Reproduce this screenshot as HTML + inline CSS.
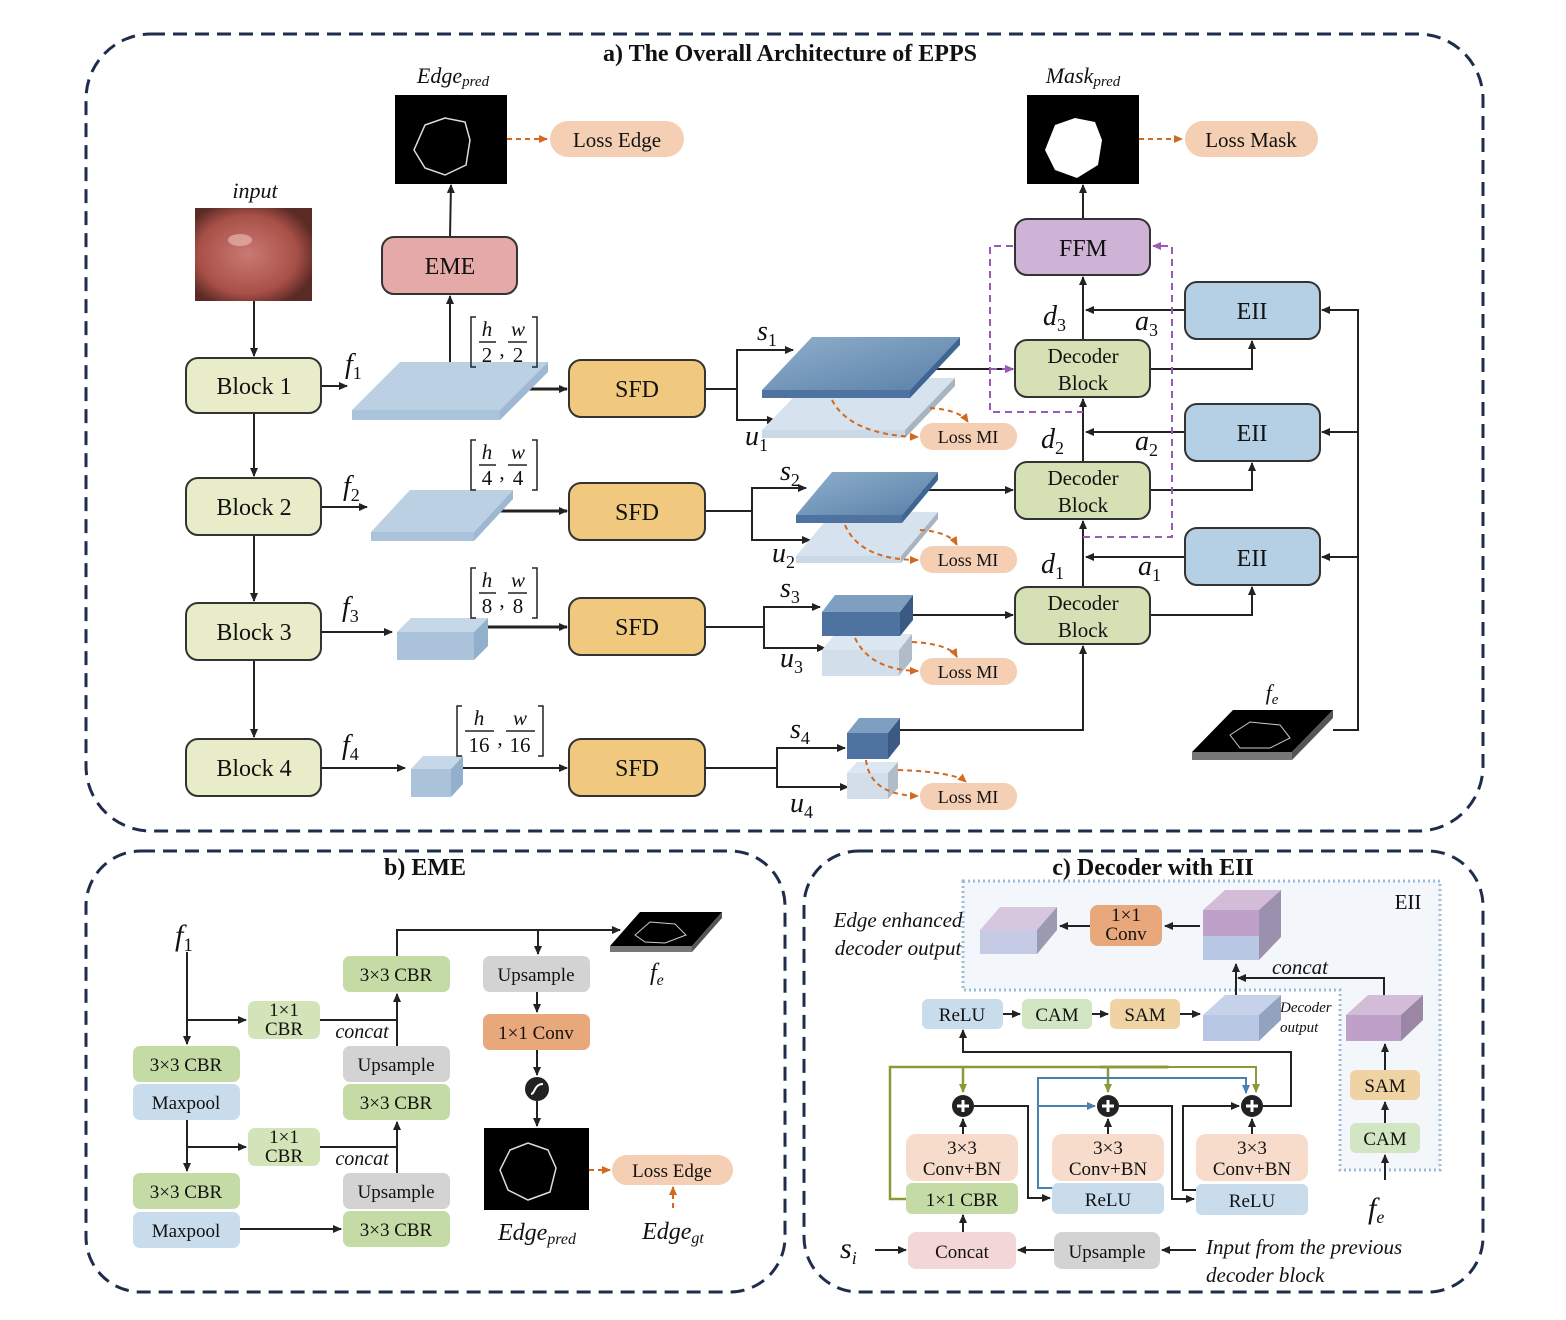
<!DOCTYPE html>
<html><head><meta charset="utf-8"><style>
body{margin:0;background:#fff}
svg{display:block}
text{font-family:"Liberation Serif",serif;fill:#111}
.it{font-style:italic}
.b{font-weight:bold}
</style></head><body>
<svg width="1566" height="1320" viewBox="0 0 1566 1320" xmlns="http://www.w3.org/2000/svg">
<defs>
<marker id="a" markerWidth="10" markerHeight="10" refX="8" refY="5" orient="auto" markerUnits="userSpaceOnUse"><path d="M0,1 L9,5 L0,9 z" fill="#222"/></marker>
<marker id="o" markerWidth="10" markerHeight="10" refX="8" refY="5" orient="auto" markerUnits="userSpaceOnUse"><path d="M0,1 L9,5 L0,9 z" fill="#d2691e"/></marker>
<marker id="p" markerWidth="10" markerHeight="10" refX="8" refY="5" orient="auto" markerUnits="userSpaceOnUse"><path d="M0,1 L9,5 L0,9 z" fill="#9b59b6"/></marker>
<marker id="g" markerWidth="10" markerHeight="10" refX="8" refY="5" orient="auto" markerUnits="userSpaceOnUse"><path d="M0,1 L9,5 L0,9 z" fill="#8a9a3a"/></marker>
<marker id="bl" markerWidth="10" markerHeight="10" refX="8" refY="5" orient="auto" markerUnits="userSpaceOnUse"><path d="M0,1 L9,5 L0,9 z" fill="#4a7fb0"/></marker>
<linearGradient id="dk" x1="0" y1="0" x2="1" y2="1"><stop offset="0" stop-color="#8fb0cc"/><stop offset="1" stop-color="#5a80a8"/></linearGradient>
<radialGradient id="tis" cx="0.45" cy="0.5" r="0.6"><stop offset="0" stop-color="#c97a72"/><stop offset="0.7" stop-color="#a85048"/><stop offset="1" stop-color="#5a2a24"/></radialGradient>
</defs>

<!-- panels -->
<rect x="86" y="34" width="1397" height="797" rx="65" fill="none" stroke="#1f2d4d" stroke-width="3" stroke-dasharray="14,8"/>
<rect x="86" y="851" width="699" height="441" rx="55" fill="none" stroke="#1f2d4d" stroke-width="3" stroke-dasharray="14,8"/>
<rect x="804" y="851" width="679" height="441" rx="55" fill="none" stroke="#1f2d4d" stroke-width="3" stroke-dasharray="14,8"/>
<text x="790" y="61" font-size="24" class="b" text-anchor="middle">a)  The Overall Architecture of EPPS</text>
<text x="425" y="875" font-size="24" class="b" text-anchor="middle">b)  EME</text>
<text x="1153" y="875" font-size="24" class="b" text-anchor="middle">c)  Decoder with EII</text>

<g stroke="#222" stroke-width="2" fill="none">
<!-- ===== Panel A ===== -->
<line x1="254" y1="300" x2="254" y2="356" marker-end="url(#a)"/>
<line x1="254" y1="413" x2="254" y2="476" marker-end="url(#a)"/>
<line x1="254" y1="535" x2="254" y2="601" marker-end="url(#a)"/>
<line x1="254" y1="660" x2="254" y2="737" marker-end="url(#a)"/>
<line x1="321" y1="386" x2="347" y2="386" marker-end="url(#a)"/>
<line x1="321" y1="507" x2="367" y2="507" marker-end="url(#a)"/>
<line x1="321" y1="632" x2="392" y2="632" marker-end="url(#a)"/>
<line x1="321" y1="768" x2="405" y2="768" marker-end="url(#a)"/>
<line x1="528" y1="389" x2="567" y2="389" stroke-width="3" marker-end="url(#a)"/>
<line x1="500" y1="511" x2="567" y2="511" stroke-width="3" marker-end="url(#a)"/>
<line x1="488" y1="627" x2="567" y2="627" stroke-width="3" marker-end="url(#a)"/>
<line x1="463" y1="768" x2="567" y2="768" stroke-width="2" marker-end="url(#a)"/>
<line x1="450" y1="380" x2="450" y2="296" marker-end="url(#a)"/>
<line x1="450" y1="237" x2="451" y2="185" marker-end="url(#a)"/>
<line x1="1083" y1="219" x2="1083" y2="185" marker-end="url(#a)"/>
<!-- SFD outputs -->
<polyline points="705,389 737,389 737,350 793,350" marker-end="url(#a)"/>
<polyline points="737,389 737,420 775,420" marker-end="url(#a)"/>
<polyline points="705,511 752,511 752,488 806,488" marker-end="url(#a)"/>
<polyline points="752,511 752,540 810,540" marker-end="url(#a)"/>
<polyline points="705,627 764,627 764,607 820,607" marker-end="url(#a)"/>
<polyline points="764,627 764,648 825,648" marker-end="url(#a)"/>
<polyline points="705,768 777,768 777,748 845,748" marker-end="url(#a)"/>
<polyline points="777,768 777,787 848,787" marker-end="url(#a)"/>
<!-- s to decoder -->
<line x1="935" y1="369" x2="1013" y2="369" marker-end="url(#a)"/>
<line x1="920" y1="490" x2="1013" y2="490" marker-end="url(#a)"/>
<line x1="912" y1="615" x2="1013" y2="615" marker-end="url(#a)"/>
<polyline points="898,730 1083,730 1083,646" marker-end="url(#a)"/>
<line x1="1083" y1="587" x2="1083" y2="521" marker-end="url(#a)"/>
<line x1="1083" y1="462" x2="1083" y2="399" marker-end="url(#a)"/>
<line x1="1083" y1="340" x2="1083" y2="277" marker-end="url(#a)"/>
<line x1="1185" y1="310" x2="1086" y2="310" marker-end="url(#a)"/>
<line x1="1185" y1="432" x2="1086" y2="432" marker-end="url(#a)"/>
<line x1="1185" y1="557" x2="1086" y2="557" marker-end="url(#a)"/>
<polyline points="1150,369 1252,369 1252,341" marker-end="url(#a)"/>
<polyline points="1150,490 1252,490 1252,463" marker-end="url(#a)"/>
<polyline points="1150,615 1252,615 1252,587" marker-end="url(#a)"/>
<polyline points="1333,730 1358,730 1358,310 1322,310" marker-end="url(#a)"/>
<line x1="1358" y1="432" x2="1322" y2="432" marker-end="url(#a)"/>
<line x1="1358" y1="557" x2="1322" y2="557" marker-end="url(#a)"/>
</g>
<g stroke="#d2691e" stroke-width="2" fill="none" stroke-dasharray="5,4">
<line x1="507" y1="139" x2="547" y2="139" marker-end="url(#o)"/>
<line x1="1139" y1="139" x2="1182" y2="139" marker-end="url(#o)"/>
</g>
<g stroke="#9b59b6" stroke-width="2" fill="none" stroke-dasharray="7,5">
<polyline points="1013,246 990,246 990,412 1083,412"/>
<polyline points="1083,537 1172,537 1172,246 1153,246" marker-end="url(#p)"/>
<line x1="990" y1="369" x2="1013" y2="369" marker-end="url(#p)"/>
</g>

<!-- input image -->
<rect x="195" y="208" width="117" height="93" fill="url(#tis)"/>
<ellipse cx="240" cy="240" rx="12" ry="6" fill="#e8b5ae" opacity="0.7"/>
<text x="255" y="198" font-size="22" class="it" text-anchor="middle">input</text>
<!-- edge/mask pred -->
<rect x="395" y="95" width="112" height="89" fill="#000"/>
<path d="M425,125 L445,118 L465,122 L470,140 L466,165 L445,175 L425,168 L414,150 Z" fill="none" stroke="#ddd" stroke-width="1.5"/>
<text x="453" y="83" font-size="22" class="it" text-anchor="middle">Edge<tspan font-size="15" dy="3">pred</tspan></text>
<rect x="1027" y="95" width="112" height="89" fill="#000"/>
<path d="M1055,125 L1075,118 L1095,122 L1102,140 L1098,165 L1077,178 L1055,170 L1045,150 Z" fill="#fff"/>
<text x="1083" y="83" font-size="22" class="it" text-anchor="middle">Mask<tspan font-size="15" dy="3">pred</tspan></text>

<!-- boxes A -->
<g stroke="#333" stroke-width="2">
<rect x="186" y="358" width="135" height="55" rx="12" fill="#e8ecc8"/>
<rect x="186" y="478" width="135" height="57" rx="12" fill="#e8ecc8"/>
<rect x="186" y="603" width="135" height="57" rx="12" fill="#e8ecc8"/>
<rect x="186" y="739" width="135" height="57" rx="12" fill="#e8ecc8"/>
<rect x="382" y="237" width="135" height="57" rx="12" fill="#e5aaa8"/>
<rect x="569" y="360" width="136" height="57" rx="12" fill="#f0c97e"/>
<rect x="569" y="483" width="136" height="57" rx="12" fill="#f0c97e"/>
<rect x="569" y="598" width="136" height="57" rx="12" fill="#f0c97e"/>
<rect x="569" y="739" width="136" height="57" rx="12" fill="#f0c97e"/>
<rect x="1015" y="219" width="135" height="56" rx="12" fill="#cfb3d6"/>
<rect x="1185" y="282" width="135" height="57" rx="12" fill="#b5cfe5"/>
<rect x="1185" y="404" width="135" height="57" rx="12" fill="#b5cfe5"/>
<rect x="1185" y="528" width="135" height="57" rx="12" fill="#b5cfe5"/>
<rect x="1015" y="340" width="135" height="57" rx="12" fill="#d5e0b5"/>
<rect x="1015" y="462" width="135" height="57" rx="12" fill="#d5e0b5"/>
<rect x="1015" y="587" width="135" height="57" rx="12" fill="#d5e0b5"/>
</g>
<g fill="#f4cfb3">
<rect x="550" y="121" width="134" height="36" rx="18"/>
<rect x="1185" y="121" width="133" height="36" rx="18"/>
<rect x="920" y="423" width="97" height="27" rx="13"/>
<rect x="920" y="546" width="97" height="27" rx="13"/>
<rect x="920" y="658" width="97" height="27" rx="13"/>
<rect x="920" y="783" width="97" height="27" rx="13"/>
</g>
<g font-size="24" text-anchor="middle">
<text x="254" y="394">Block 1</text><text x="254" y="515">Block 2</text><text x="254" y="640">Block 3</text><text x="254" y="776">Block 4</text>
<text x="450" y="274">EME</text>
<text x="637" y="397">SFD</text><text x="637" y="520">SFD</text><text x="637" y="635">SFD</text><text x="637" y="776">SFD</text>
<text x="1083" y="256">FFM</text>
<text x="1252" y="319">EII</text><text x="1252" y="441">EII</text><text x="1252" y="566">EII</text>
</g>
<g font-size="21" text-anchor="middle">
<text x="1083" y="363">Decoder</text><text x="1083" y="390">Block</text>
<text x="1083" y="485">Decoder</text><text x="1083" y="512">Block</text>
<text x="1083" y="610">Decoder</text><text x="1083" y="637">Block</text>
<text x="617" y="147">Loss Edge</text><text x="1251" y="147">Loss Mask</text>
</g>
<g font-size="18" text-anchor="middle">
<text x="968" y="443">Loss MI</text><text x="968" y="566">Loss MI</text><text x="968" y="678">Loss MI</text><text x="968" y="803">Loss MI</text>
</g>

<!-- feature planes f -->
<g>
<polygon points="352,410 400,362 548,362 500,410" fill="#bcd0e4"/>
<polygon points="352,410 500,410 500,420 352,420" fill="#aac2da"/>
<polygon points="500,410 548,362 548,372 500,420" fill="#9fb8d2"/>
<polygon points="371,532 410,490 513,490 474,532" fill="#bcd0e4"/>
<polygon points="371,532 474,532 474,541 371,541" fill="#aac2da"/>
<polygon points="474,532 513,490 513,499 474,541" fill="#9fb8d2"/>
<polygon points="397,632 411,618 488,618 474,632" fill="#c6d7e8"/>
<rect x="397" y="632" width="77" height="28" fill="#aac2da"/>
<polygon points="474,632 488,618 488,646 474,660" fill="#92afcc"/>
<polygon points="411,769 423,756 463,756 451,769" fill="#c6d7e8"/>
<rect x="411" y="769" width="40" height="28" fill="#aac2da"/>
<polygon points="451,769 463,756 463,784 451,797" fill="#92afcc"/>
</g>
<!-- s/u slabs -->
<g>
<polygon points="762,430 812,378 955,378 905,430" fill="#d6e2ee"/>
<rect x="762" y="430" width="143" height="8" fill="#cbd8e6"/>
<polygon points="905,430 955,378 955,386 905,438" fill="#a8b4c0"/>
<polygon points="762,390 812,337 960,337 910,390" fill="url(#dk)"/>
<rect x="762" y="390" width="148" height="8" fill="#4f73a0"/>
<polygon points="910,390 960,337 960,345 910,398" fill="#3f6592"/>
<polygon points="796,556 833,512 938,512 901,556" fill="#d6e2ee"/>
<rect x="796" y="556" width="105" height="7" fill="#cbd8e6"/>
<polygon points="901,556 938,512 938,519 901,563" fill="#a8b4c0"/>
<polygon points="796,515 832,472 938,472 902,515" fill="url(#dk)"/>
<rect x="796" y="515" width="106" height="8" fill="#4f73a0"/>
<polygon points="902,515 938,472 938,480 902,523" fill="#3f6592"/>
<polygon points="822,650 835,634 912,634 899,650" fill="#dde7f1"/>
<rect x="822" y="650" width="77" height="26" fill="#d2dfeb"/>
<polygon points="899,650 912,634 912,660 899,676" fill="#b0bcc8"/>
<polygon points="822,612 835,595 913,595 900,612" fill="#7f9fc0"/>
<rect x="822" y="612" width="78" height="24" fill="#4f73a0"/>
<polygon points="900,612 913,595 913,620 900,636" fill="#3a5a84"/>
<polygon points="847,773 857,762 898,762 888,773" fill="#dde7f1"/>
<rect x="847" y="773" width="41" height="26" fill="#d2dfeb"/>
<polygon points="888,773 898,762 898,788 888,799" fill="#b0bcc8"/>
<polygon points="847,733 859,718 900,718 888,733" fill="#7f9fc0"/>
<rect x="847" y="733" width="41" height="26" fill="#4f73a0"/>
<polygon points="888,733 900,718 900,744 888,759" fill="#3a5a84"/>
</g>
<g stroke="#d2691e" stroke-width="2" fill="none" stroke-dasharray="5,4">
<path d="M832,400 Q850,435 918,437" marker-end="url(#o)"/>
<path d="M930,408 Q960,410 968,422" marker-end="url(#o)"/>
<path d="M845,525 Q860,560 918,560" marker-end="url(#o)"/>
<path d="M920,530 Q950,532 957,545" marker-end="url(#o)"/>
<path d="M855,638 Q870,670 918,671" marker-end="url(#o)"/>
<path d="M912,642 Q950,644 957,657" marker-end="url(#o)"/>
<path d="M866,760 Q870,795 918,796" marker-end="url(#o)"/>
<path d="M898,770 Q955,772 966,782" marker-end="url(#o)"/>
</g>
<!-- fe slab -->
<polygon points="1192,752 1233,710 1333,710 1292,752" fill="#000"/>
<rect x="1192" y="752" width="100" height="8" fill="#777"/>
<polygon points="1292,752 1333,710 1333,718 1292,760" fill="#555"/>
<path d="M1230,735 L1250,722 L1280,725 L1290,738 L1270,748 L1240,748 Z" fill="none" stroke="#ccc" stroke-width="1"/>
<text x="1272" y="700" font-size="22" class="it" text-anchor="middle">f<tspan font-size="15" dy="4">e</tspan></text>

<!-- labels A math -->
<g font-size="28" class="it">
<text x="345" y="373">f<tspan font-size="18" dy="6" font-style="normal">1</tspan></text>
<text x="343" y="495">f<tspan font-size="18" dy="6" font-style="normal">2</tspan></text>
<text x="342" y="616">f<tspan font-size="18" dy="6" font-style="normal">3</tspan></text>
<text x="342" y="754">f<tspan font-size="18" dy="6" font-style="normal">4</tspan></text>
<text x="757" y="340">s<tspan font-size="18" dy="6" font-style="normal">1</tspan></text>
<text x="745" y="445">u<tspan font-size="18" dy="6" font-style="normal">1</tspan></text>
<text x="780" y="480">s<tspan font-size="18" dy="6" font-style="normal">2</tspan></text>
<text x="772" y="562">u<tspan font-size="18" dy="6" font-style="normal">2</tspan></text>
<text x="780" y="597">s<tspan font-size="18" dy="6" font-style="normal">3</tspan></text>
<text x="780" y="667">u<tspan font-size="18" dy="6" font-style="normal">3</tspan></text>
<text x="790" y="738">s<tspan font-size="18" dy="6" font-style="normal">4</tspan></text>
<text x="790" y="812">u<tspan font-size="18" dy="6" font-style="normal">4</tspan></text>
<text x="1043" y="325">d<tspan font-size="18" dy="6" font-style="normal">3</tspan></text>
<text x="1135" y="330">a<tspan font-size="18" dy="6" font-style="normal">3</tspan></text>
<text x="1041" y="448">d<tspan font-size="18" dy="6" font-style="normal">2</tspan></text>
<text x="1135" y="450">a<tspan font-size="18" dy="6" font-style="normal">2</tspan></text>
<text x="1041" y="573">d<tspan font-size="18" dy="6" font-style="normal">1</tspan></text>
<text x="1138" y="575">a<tspan font-size="18" dy="6" font-style="normal">1</tspan></text>
</g>
<!-- fractions -->
<g font-size="22" text-anchor="middle" stroke="#222" stroke-width="1.5" fill="none">
<path d="M476,317 h-5 v50 h5 M532,317 h5 v50 h-5"/><line x1="479" y1="342" x2="496" y2="342"/><line x1="508" y1="342" x2="527" y2="342"/>
<path d="M476,440 h-5 v50 h5 M532,440 h5 v50 h-5"/><line x1="479" y1="465" x2="496" y2="465"/><line x1="508" y1="465" x2="527" y2="465"/>
<path d="M476,568 h-5 v50 h5 M532,568 h5 v50 h-5"/><line x1="479" y1="593" x2="496" y2="593"/><line x1="508" y1="593" x2="527" y2="593"/>
<path d="M462,706 h-5 v50 h5 M538,706 h5 v50 h-5"/><line x1="465" y1="731" x2="494" y2="731"/><line x1="506" y1="731" x2="535" y2="731"/>
</g>
<g font-size="21" text-anchor="middle">
<text x="487" y="336" class="it">h</text><text x="487" y="362">2</text><text x="502" y="356">,</text><text x="518" y="336" class="it">w</text><text x="518" y="362">2</text>
<text x="487" y="459" class="it">h</text><text x="487" y="485">4</text><text x="502" y="479">,</text><text x="518" y="459" class="it">w</text><text x="518" y="485">4</text>
<text x="487" y="587" class="it">h</text><text x="487" y="613">8</text><text x="502" y="607">,</text><text x="518" y="587" class="it">w</text><text x="518" y="613">8</text>
<text x="479" y="725" class="it">h</text><text x="479" y="752">16</text><text x="500" y="745">,</text><text x="520" y="725" class="it">w</text><text x="520" y="752">16</text>
</g>

<!-- ===== Panel B ===== -->
<g stroke="#222" stroke-width="2" fill="none">
<line x1="187" y1="952" x2="187" y2="1044" marker-end="url(#a)"/>
<line x1="187" y1="1020" x2="246" y2="1020" marker-end="url(#a)"/>
<line x1="187" y1="1120" x2="187" y2="1171" marker-end="url(#a)"/>
<line x1="187" y1="1147" x2="246" y2="1147" marker-end="url(#a)"/>
<line x1="240" y1="1229" x2="341" y2="1229" marker-end="url(#a)"/>
<line x1="320" y1="1020" x2="397" y2="1020"/>
<line x1="320" y1="1147" x2="397" y2="1147"/>
<line x1="397" y1="1046" x2="397" y2="994" marker-end="url(#a)"/>
<line x1="397" y1="1173" x2="397" y2="1122" marker-end="url(#a)"/>
<polyline points="397,956 397,930 538,930 538,954" marker-end="url(#a)"/>
<line x1="538" y1="930" x2="620" y2="930" marker-end="url(#a)"/>
<line x1="537" y1="992" x2="537" y2="1012" marker-end="url(#a)"/>
<line x1="537" y1="1050" x2="537" y2="1075" marker-end="url(#a)"/>
<line x1="537" y1="1101" x2="537" y2="1126" marker-end="url(#a)"/>
</g>
<g stroke="#d2691e" stroke-width="2" fill="none" stroke-dasharray="5,4">
<line x1="589" y1="1170" x2="610" y2="1170" marker-end="url(#o)"/>
<line x1="673" y1="1208" x2="673" y2="1187" marker-end="url(#o)"/>
</g>
<g>
<rect x="133" y="1046" width="107" height="36" rx="7" fill="#c5dba5"/>
<rect x="133" y="1084" width="107" height="36" rx="7" fill="#c8dcec"/>
<rect x="133" y="1173" width="107" height="36" rx="7" fill="#c5dba5"/>
<rect x="133" y="1212" width="107" height="36" rx="7" fill="#c8dcec"/>
<rect x="248" y="1001" width="72" height="38" rx="7" fill="#d2e4b8"/>
<rect x="248" y="1128" width="72" height="38" rx="7" fill="#d2e4b8"/>
<rect x="343" y="956" width="107" height="36" rx="7" fill="#c5dba5"/>
<rect x="343" y="1046" width="107" height="36" rx="7" fill="#d3d3d3"/>
<rect x="343" y="1084" width="107" height="36" rx="7" fill="#c5dba5"/>
<rect x="343" y="1173" width="107" height="36" rx="7" fill="#d3d3d3"/>
<rect x="343" y="1211" width="107" height="36" rx="7" fill="#c5dba5"/>
<rect x="483" y="956" width="107" height="36" rx="7" fill="#d3d3d3"/>
<rect x="483" y="1014" width="107" height="36" rx="7" fill="#e8a87c"/>
<rect x="612" y="1155" width="121" height="30" rx="15" fill="#f4cfb3"/>
<circle cx="537" cy="1089" r="12" fill="#222"/>
<path d="M531,1094 C535,1094 534,1084 543,1084" stroke="#fff" stroke-width="2" fill="none"/>
<rect x="484" y="1128" width="105" height="82" fill="#000"/>
<path d="M510,1150 L528,1143 L548,1150 L556,1168 L550,1192 L528,1200 L508,1190 L500,1170 Z" fill="none" stroke="#ddd" stroke-width="1.5"/>
<polygon points="610,946 640,912 722,912 692,946" fill="#000"/>
<rect x="610" y="946" width="82" height="6" fill="#777"/>
<polygon points="692,946 722,912 722,918 692,952" fill="#555"/>
<path d="M635,935 L650,922 L675,924 L686,935 L665,943 L645,942 Z" fill="none" stroke="#ccc" stroke-width="1"/>
</g>
<g font-size="19" text-anchor="middle">
<text x="186" y="1071">3×3 CBR</text><text x="186" y="1109">Maxpool</text>
<text x="186" y="1198">3×3 CBR</text><text x="186" y="1237">Maxpool</text>
<text x="284" y="1016">1×1</text><text x="284" y="1035">CBR</text>
<text x="284" y="1143">1×1</text><text x="284" y="1162">CBR</text>
<text x="396" y="981">3×3 CBR</text><text x="396" y="1071">Upsample</text><text x="396" y="1109">3×3 CBR</text>
<text x="396" y="1198">Upsample</text><text x="396" y="1236">3×3 CBR</text>
<text x="536" y="981">Upsample</text><text x="536" y="1039">1×1 Conv</text>
<text x="672" y="1177">Loss Edge</text>
</g>
<g class="it" font-size="20" text-anchor="middle">
<text x="362" y="1038">concat</text><text x="362" y="1165">concat</text>
</g>
<text x="175" y="945" font-size="30" class="it">f<tspan font-size="19" dy="6" font-style="normal">1</tspan></text>
<text x="650" y="980" font-size="24" class="it">f<tspan font-size="16" dy="5">e</tspan></text>
<text x="537" y="1240" font-size="24" class="it" text-anchor="middle">Edge<tspan font-size="16" dy="4">pred</tspan></text>
<text x="673" y="1239" font-size="24" class="it" text-anchor="middle">Edge<tspan font-size="16" dy="4">gt</tspan></text>

<!-- ===== Panel C ===== -->
<path d="M963,881 H1440 V1170 H1340 V990 H963 Z" fill="#f3f7fb" stroke="#9bbbd8" stroke-width="3" stroke-dasharray="2,3"/>
<text x="1408" y="909" font-size="21" text-anchor="middle">EII</text>
<g class="it" font-size="21" text-anchor="middle">
<text x="898" y="927">Edge enhanced</text><text x="898" y="955">decoder output</text>
<text x="1300" y="974">concat</text>
</g>
<g class="it" font-size="15">
<text x="1280" y="1012">Decoder</text><text x="1280" y="1032">output</text>
</g>
<g stroke="#222" stroke-width="2" fill="none">
<line x1="1090" y1="926" x2="1060" y2="926" marker-end="url(#a)"/>
<line x1="1200" y1="926" x2="1165" y2="926" marker-end="url(#a)"/>
<line x1="1236" y1="1000" x2="1236" y2="964" marker-end="url(#a)"/>
<polyline points="1384,995 1384,978 1238,978" marker-end="url(#a)"/>
<line x1="1003" y1="1014" x2="1020" y2="1014" marker-end="url(#a)"/>
<line x1="1092" y1="1014" x2="1108" y2="1014" marker-end="url(#a)"/>
<line x1="1180" y1="1014" x2="1200" y2="1014" marker-end="url(#a)"/>
<line x1="1385" y1="1070" x2="1385" y2="1044" marker-end="url(#a)"/>
<line x1="1385" y1="1123" x2="1385" y2="1102" marker-end="url(#a)"/>
<line x1="1385" y1="1180" x2="1385" y2="1155" marker-end="url(#a)"/>
<polyline points="1263,1106 1291,1106 1291,1052 963,1052 963,1030" marker-end="url(#a)"/>
<line x1="963" y1="1134" x2="963" y2="1119" marker-end="url(#a)"/>
<line x1="1108" y1="1134" x2="1108" y2="1119" marker-end="url(#a)"/>
<line x1="1252" y1="1134" x2="1252" y2="1119" marker-end="url(#a)"/>
<polyline points="974,1106 1028,1106 1028,1198 1050,1198" marker-end="url(#a)"/>
<polyline points="1119,1106 1172,1106 1172,1199 1194,1199" marker-end="url(#a)"/>
<polyline points="1196,1190 1183,1190 1183,1106 1239,1106" marker-end="url(#a)"/>
<line x1="963" y1="1232" x2="963" y2="1215" marker-end="url(#a)"/>
<line x1="1054" y1="1250" x2="1018" y2="1250" marker-end="url(#a)"/>
<line x1="1196" y1="1250" x2="1162" y2="1250" marker-end="url(#a)"/>
<line x1="875" y1="1250" x2="906" y2="1250" marker-end="url(#a)"/>
</g>
<g stroke="#8a9a3a" stroke-width="2.5" fill="none">
<polyline points="906,1199 890,1199 890,1067 1168,1067 1168,1068"/>
<polyline points="1168,1067 1168,1067 1168,1067"/>
<polyline points="1168,1067 1168,1067"/>
<line x1="963" y1="1067" x2="963" y2="1092" marker-end="url(#g)"/>
<line x1="1108" y1="1067" x2="1108" y2="1092" marker-end="url(#g)"/>
<polyline points="1168,1067 1168,1067 1168,1067"/>
<polyline points="1100,1067 1168,1067"/>
<polyline points="1168,1067 1168,1067"/>
<polyline points="1100,1067 1168,1067"/>
<polyline points="1160,1067 1168,1067"/>
</g>
<g stroke="#8a9a3a" stroke-width="2" fill="none">
<polyline points="1160,1067 1256,1067 1256,1092" marker-end="url(#g)"/>
</g>
<g stroke="#4a7fb0" stroke-width="2" fill="none">
<polyline points="1054,1188 1038,1188 1038,1078 1246,1078 1246,1093" marker-end="url(#bl)"/>
<line x1="1038" y1="1106" x2="1095" y2="1106" marker-end="url(#bl)"/>
</g>
<g>
<circle cx="963" cy="1106" r="11" fill="#222"/><circle cx="1108" cy="1106" r="11" fill="#222"/><circle cx="1252" cy="1106" r="11" fill="#222"/>
<path d="M957,1106h12M963,1100v12M1102,1106h12M1108,1100v12M1246,1106h12M1252,1100v12" stroke="#fff" stroke-width="3"/>
<rect x="906" y="1134" width="112" height="47" rx="10" fill="#f7dccb"/>
<rect x="1052" y="1134" width="112" height="47" rx="10" fill="#f7dccb"/>
<rect x="1196" y="1134" width="112" height="47" rx="10" fill="#f7dccb"/>
<rect x="906" y="1183" width="112" height="31" rx="6" fill="#c5dba5"/>
<rect x="1052" y="1183" width="112" height="31" rx="6" fill="#c8dcec"/>
<rect x="1196" y="1184" width="112" height="31" rx="6" fill="#c8dcec"/>
<rect x="908" y="1232" width="108" height="37" rx="8" fill="#f3d6d6"/>
<rect x="1054" y="1232" width="106" height="37" rx="8" fill="#d3d3d3"/>
<rect x="922" y="999" width="81" height="30" rx="6" fill="#c8dcec"/>
<rect x="1022" y="999" width="70" height="30" rx="6" fill="#d3e6c3"/>
<rect x="1110" y="999" width="70" height="30" rx="6" fill="#f0d3a3"/>
<rect x="1350" y="1070" width="70" height="30" rx="6" fill="#f0d3a3"/>
<rect x="1350" y="1123" width="70" height="30" rx="6" fill="#d3e6c3"/>
<rect x="1090" y="905" width="72" height="41" rx="8" fill="#e8a87c"/>
</g>
<!-- cubes c -->
<g>
<polygon points="980,930 1000,907 1057,907 1037,930" fill="#d6c6de"/>
<rect x="980" y="930" width="57" height="24" fill="#c5cbe4"/>
<polygon points="1037,930 1057,907 1057,930 1037,954" fill="#9a9ab0"/>
<polygon points="1203,910 1225,890 1281,890 1259,910" fill="#d3bcd8"/>
<rect x="1203" y="910" width="56" height="26" fill="#bea0c8"/>
<rect x="1203" y="936" width="56" height="24" fill="#b8c8e4"/>
<polygon points="1259,910 1281,890 1281,937 1259,960" fill="#9b90ad"/>
<polygon points="1203,1015 1225,995 1281,995 1259,1015" fill="#c6d2ea"/>
<rect x="1203" y="1015" width="56" height="26" fill="#b8c8e4"/>
<polygon points="1259,1015 1281,995 1281,1020 1259,1041" fill="#93a3bf"/>
<polygon points="1346,1015 1368,995 1423,995 1401,1015" fill="#d3bcd8"/>
<rect x="1346" y="1015" width="55" height="26" fill="#bea0c8"/>
<polygon points="1401,1015 1423,995 1423,1020 1401,1041" fill="#9b86a5"/>
</g>
<g font-size="19" text-anchor="middle">
<text x="1126" y="921">1×1</text><text x="1126" y="940">Conv</text>
<text x="962" y="1021">ReLU</text><text x="1057" y="1021">CAM</text><text x="1145" y="1021">SAM</text>
<text x="1385" y="1092">SAM</text><text x="1385" y="1145">CAM</text>
<text x="962" y="1154">3×3</text><text x="962" y="1175">Conv+BN</text>
<text x="1108" y="1154">3×3</text><text x="1108" y="1175">Conv+BN</text>
<text x="1252" y="1154">3×3</text><text x="1252" y="1175">Conv+BN</text>
<text x="962" y="1206">1×1 CBR</text><text x="1108" y="1206">ReLU</text><text x="1252" y="1207">ReLU</text>
<text x="962" y="1258">Concat</text><text x="1107" y="1258">Upsample</text>
</g>
<text x="840" y="1258" font-size="30" class="it">s<tspan font-size="18" dy="6">i</tspan></text>
<text x="1368" y="1218" font-size="30" class="it">f<tspan font-size="18" dy="5">e</tspan></text>
<g class="it" font-size="21">
<text x="1206" y="1254">Input from the previous</text><text x="1206" y="1282">decoder block</text>
</g>
</svg>
</body></html>
